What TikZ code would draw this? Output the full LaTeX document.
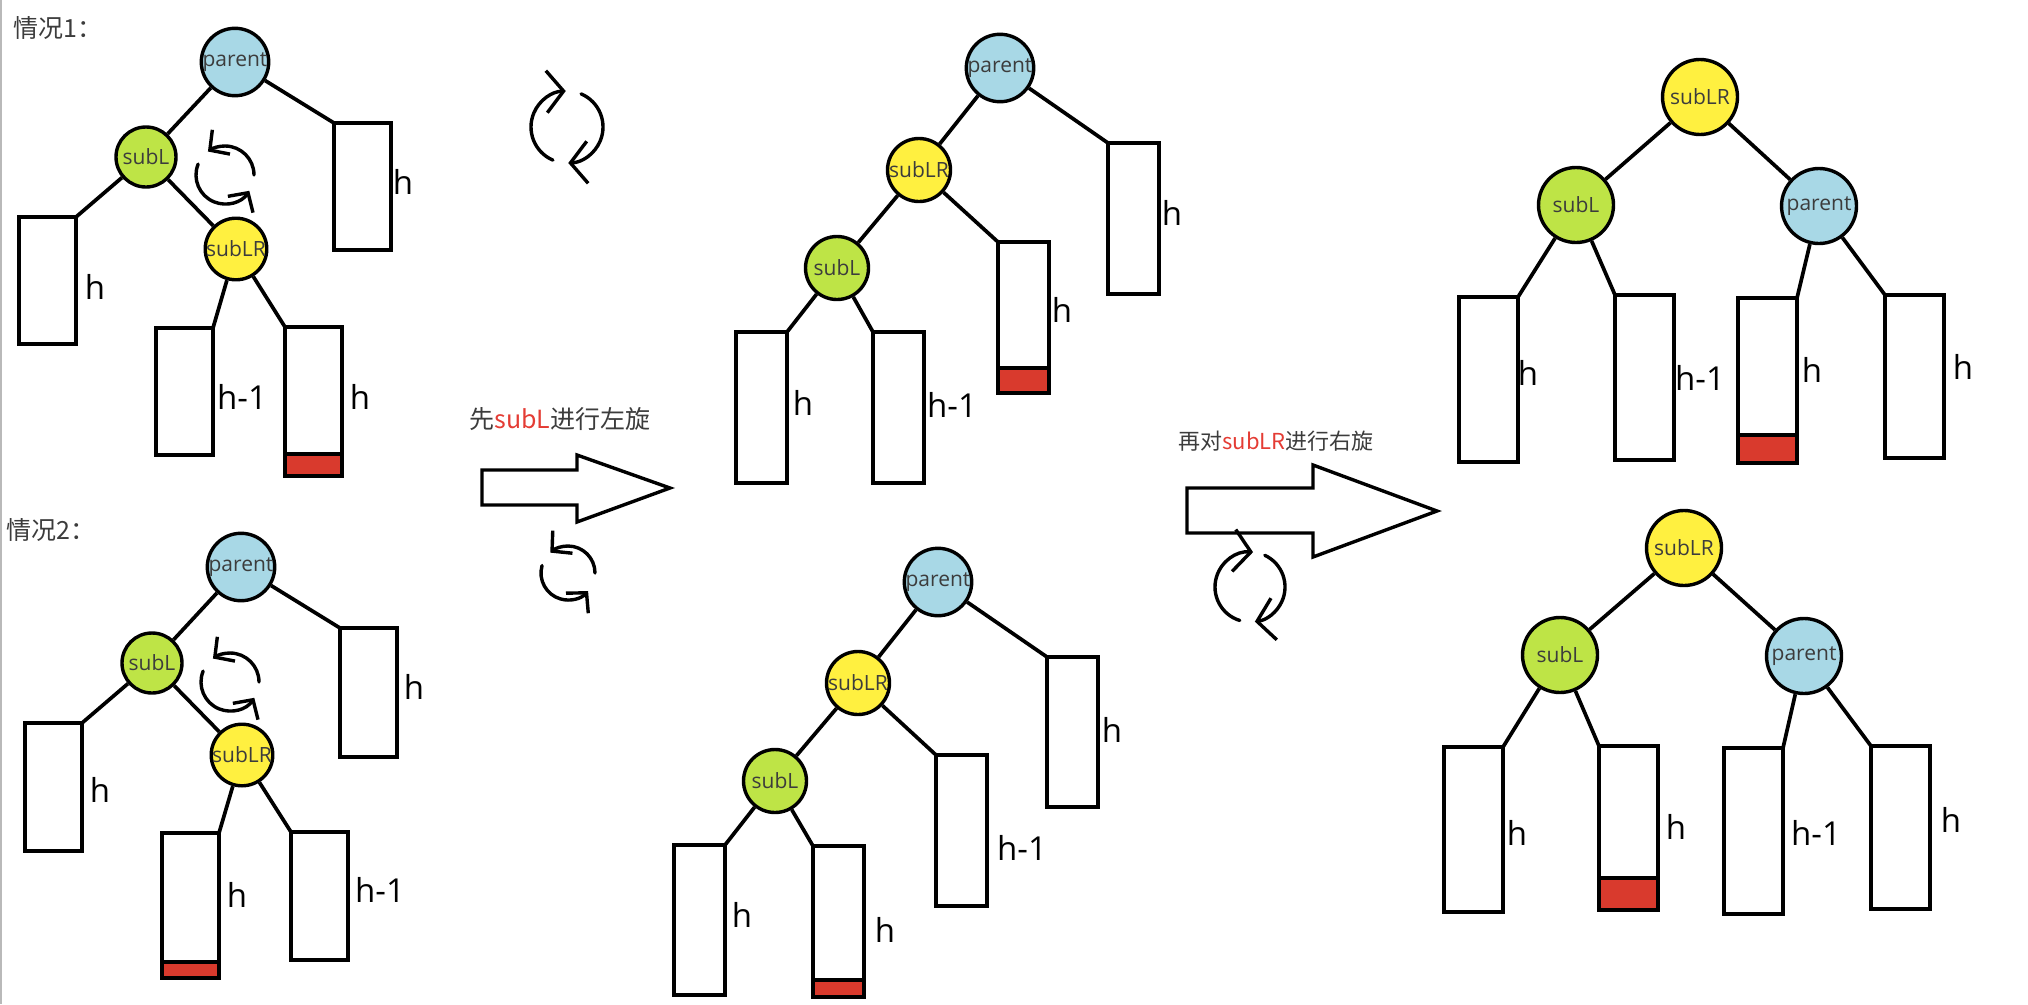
\documentclass[tikz,border=0pt]{standalone}
\usepackage{fontspec}
\setmainfont{Open Sans}
\newfontfamily\cjk{Noto Sans CJK SC}
\usetikzlibrary{arrows.meta}

\definecolor{parblue}{RGB}{168,216,230}
\definecolor{subgreen}{RGB}{190,228,70}
\definecolor{subyellow}{RGB}{255,240,64}
\definecolor{barred}{RGB}{217,58,45}
\definecolor{txtred}{RGB}{228,60,52}
\definecolor{txtgray}{RGB}{60,60,60}

\begin{document}
\begin{tikzpicture}[x=1pt, y=-1pt, line width=3.7pt,
    knot/.style={circle, draw, line width=3.4pt, minimum size=60pt, inner sep=0pt, text=txtgray, font=\fontsize{21}{24}\selectfont},
    par/.style={fill=parblue}, sl/.style={fill=subgreen}, slr/.style={fill=subyellow},
    box/.style={draw, line width=3.8pt, inner sep=0pt, outer sep=0pt, anchor=north west},
    boxa/.style={box, minimum width=57pt, minimum height=127pt},
    boxb/.style={box, minimum width=51pt, minimum height=151pt},
    boxc/.style={box, minimum width=59pt, minimum height=165pt},
    bar/.style={draw, fill=barred, line width=3.8pt, inner sep=0pt, outer sep=0pt, anchor=north},
    lab/.style={font=\fontsize{33}{36}\selectfont, inner sep=0pt},
    ttl/.style={font=\cjk\fontsize{25}{28}\selectfont, text=txtgray, inner sep=0pt},
    rot/.style={line width=3.4pt, line cap=round, -{Straight Barb[length=14pt,width=30pt]}},
    bigrot/.style={line width=3.4pt, line cap=round, -{Straight Barb[length=17pt,width=42pt]}},
    block/.style={line width=3.4pt, line join=miter},
]
    \useasboundingbox (0,0) rectangle (2028,1004);
    \draw[gray!55, line width=2pt] (1,0) -- (1,1004);

    % 情况1
    \node (t1) at (12,28) [ttl, anchor=west] {情况1：};
    \node (pA) at (235,62) [knot, par] {parent};
    \node (slA) at (146,157) [knot, sl] {subL};
    \node (slrA) at (236,249) [knot, slr] {subLR};
    \node (A1) at (334,123) [boxa] {};
    \node (A2) at (19,217) [boxa] {};
    \node (A3) at (156,328) [boxa] {};
    \node (A4) at (285,327) [boxa] {};
    \node (A4r) at (A4.south) [bar, minimum width=57pt, minimum height=22pt] {};
    \draw (pA) -- (slA);
    \draw (pA) -- (A1.north west);
    \draw (slA) -- (A2.north east);
    \draw (slA) -- (slrA);
    \draw (slrA) -- (A3.north east);
    \draw (slrA) -- (A4.north west);
    \node (hA1) at (403,182) [lab] {h};
    \node (hA2) at (95,287) [lab] {h};
    \node (hA3) at (242,397) [lab] {h-1};
    \node (hA4) at (360,397) [lab] {h};
    \draw[rot] (225,175) ++(0:29) arc[start angle=0, end angle=-126, radius=29];
    \draw[rot] (225,175) ++(202:29) arc[start angle=202, end angle=33, radius=29];

    % 情况2
    \node (t2) at (5,530) [ttl, anchor=west] {情况2：};
    \node (pB) at (241,567) [knot, par] {parent};
    \node (slB) at (152,663) [knot, sl] {subL};
    \node (slrB) at (242,755) [knot, slr] {subLR};
    \node (B1) at (340,628) [boxa, minimum height=129pt] {};
    \node (B2) at (25,723) [boxa, minimum height=128pt] {};
    \node (B3) at (162,833) [boxa, minimum height=129pt] {};
    \node (B3r) at (B3.south) [bar, minimum width=57pt, minimum height=16pt] {};
    \node (B4) at (291,832) [boxa, minimum height=128pt] {};
    \draw (pB) -- (slB);
    \draw (pB) -- (B1.north west);
    \draw (slB) -- (B2.north east);
    \draw (slB) -- (slrB);
    \draw (slrB) -- (B3.north east);
    \draw (slrB) -- (B4.north west);
    \node (hB1) at (414,687) [lab] {h};
    \node (hB2) at (100,790) [lab] {h};
    \node (hB3) at (237,895) [lab] {h};
    \node (hB4) at (380,890) [lab] {h-1};
    \draw[rot] (230,682) ++(0:29) arc[start angle=0, end angle=-126, radius=29];
    \draw[rot] (230,682) ++(202:29) arc[start angle=202, end angle=33, radius=29];

    % 左旋
    \draw[bigrot] (567,127) ++(113:36) arc[start angle=113, end angle=268, radius=36];
    \draw[bigrot] (567,127) ++(-67:36) arc[start angle=-67, end angle=88, radius=36];
    \node (s1) at (560,419) [ttl] {先\textcolor{txtred}{subL}进行左旋};
    \draw[block] (482,470) -- (577,470) -- (577,455) -- (670,488) -- (577,522) -- (577,505) -- (482,505) -- cycle;
    \draw[rot] (568,573) ++(0:27) arc[start angle=0, end angle=-131, radius=27];
    \draw[rot] (568,573) ++(196:27) arc[start angle=196, end angle=42, radius=27];

    % 左旋后 情况1
    \node (pC) at (1000,68) [knot, par, minimum size=63pt] {parent};
    \node (slrC) at (919,170) [knot, slr, minimum size=63pt] {subLR};
    \node (slC) at (837,268) [knot, sl, minimum size=63pt] {subL};
    \node (C1) at (1108,143) [boxb] {};
    \node (C2) at (998,242) [boxb, minimum height=126pt] {};
    \node (C2r) at (C2.south) [bar, minimum width=51pt, minimum height=25pt] {};
    \node (C3) at (736,332) [boxb] {};
    \node (C4) at (873,332) [boxb] {};
    \draw (pC) -- (slrC);
    \draw (pC) -- (C1.north west);
    \draw (slrC) -- (slC);
    \draw (slrC) -- (C2.north west);
    \draw (slC) -- (C3.north east);
    \draw (slC) -- (C4.north west);
    \node (hC1) at (1172,213) [lab] {h};
    \node (hC2) at (1062,310) [lab] {h};
    \node (hC3) at (803,403) [lab] {h};
    \node (hC4) at (952,405) [lab] {h-1};

    % 左旋后 情况2
    \node (pD) at (938,582) [knot, par, minimum size=63pt] {parent};
    \node (slrD) at (858,683) [knot, slr, minimum size=63pt] {subLR};
    \node (slD) at (775,781) [knot, sl, minimum size=63pt] {subL};
    \node (D1) at (1047,657) [boxb, minimum height=150pt] {};
    \node (D2) at (936,755) [boxb] {};
    \node (D3) at (674,845) [boxb, minimum height=150pt] {};
    \node (D4) at (813,846) [boxb, minimum height=134pt] {};
    \node (D4r) at (D4.south) [bar, minimum width=51pt, minimum height=17pt] {};
    \draw (pD) -- (slrD);
    \draw (pD) -- (D1.north west);
    \draw (slrD) -- (slD);
    \draw (slrD) -- (D2.north west);
    \draw (slD) -- (D3.north east);
    \draw (slD) -- (D4.north west);
    \node (hD1) at (1112,730) [lab] {h};
    \node (hD2) at (1022,848) [lab] {h-1};
    \node (hD3) at (742,915) [lab] {h};
    \node (hD4) at (885,930) [lab] {h};

    % 右旋
    \node (s2) at (1276,441) [ttl, font=\cjk\fontsize{22}{26}\selectfont] {再对\textcolor{txtred}{subLR}进行右旋};
    \draw[block] (1187,488) -- (1313,488) -- (1313,465) -- (1437,511) -- (1313,557) -- (1313,533) -- (1187,533) -- cycle;
    \draw[bigrot] (1250,587) ++(107:35) arc[start angle=107, end angle=275, radius=35];
    \draw[bigrot] (1250,587) ++(-65:35) arc[start angle=-65, end angle=82, radius=35];

    % 右旋后 情况1
    \node (slrE) at (1700,97) [knot, slr, minimum size=75pt] {subLR};
    \node (slE) at (1576,205) [knot, sl, minimum size=75pt] {subL};
    \node (pE) at (1819,206) [knot, par, minimum size=75pt] {parent};
    \node (E1) at (1459,297) [boxc] {};
    \node (E2) at (1615,295) [boxc] {};
    \node (E3) at (1738,298) [boxc, minimum height=137pt] {};
    \node (E3r) at (E3.south) [bar, minimum width=59pt, minimum height=28pt] {};
    \node (E4) at (1885,295) [boxc, minimum height=163pt] {};
    \draw (slrE) -- (slE);
    \draw (slrE) -- (pE);
    \draw (slE) -- (E1.north east);
    \draw (slE) -- (E2.north west);
    \draw (pE) -- (E3.north east);
    \draw (pE) -- (E4.north west);
    \node (hE1) at (1528,373) [lab] {h};
    \node (hE2) at (1700,378) [lab] {h-1};
    \node (hE3) at (1812,370) [lab] {h};
    \node (hE4) at (1963,367) [lab] {h};

    % 右旋后 情况2
    \node (slrF) at (1684,548) [knot, slr, minimum size=75pt] {subLR};
    \node (slF) at (1560,655) [knot, sl, minimum size=75pt] {subL};
    \node (pF) at (1804,656) [knot, par, minimum size=75pt] {parent};
    \node (F1) at (1444,747) [boxc] {};
    \node (F2) at (1599,746) [boxc, minimum height=132pt] {};
    \node (F2r) at (F2.south) [bar, minimum width=59pt, minimum height=32pt] {};
    \node (F3) at (1724,748) [boxc, minimum height=166pt] {};
    \node (F4) at (1871,746) [boxc, minimum height=163pt] {};
    \draw (slrF) -- (slF);
    \draw (slrF) -- (pF);
    \draw (slF) -- (F1.north east);
    \draw (slF) -- (F2.north west);
    \draw (pF) -- (F3.north east);
    \draw (pF) -- (F4.north west);
    \node (hF1) at (1517,833) [lab] {h};
    \node (hF2) at (1676,827) [lab] {h};
    \node (hF3) at (1816,833) [lab] {h-1};
    \node (hF4) at (1951,820) [lab] {h};
\end{tikzpicture}
\end{document}
